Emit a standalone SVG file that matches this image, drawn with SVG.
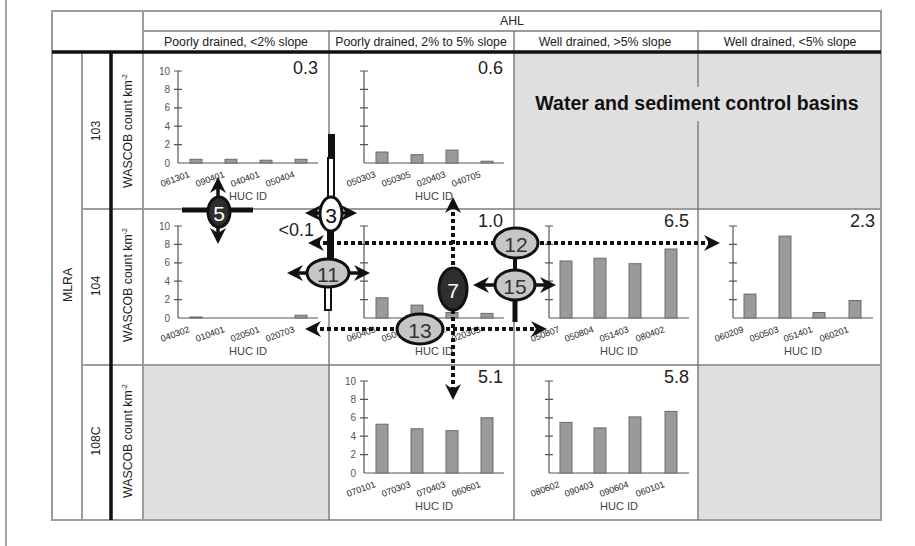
<svg xmlns="http://www.w3.org/2000/svg" width="915" height="546" viewBox="0 0 915 546">
<style>
text{font-family:"Liberation Sans",Arial,sans-serif}
.ln{stroke:#9c9c9c;stroke-width:2;fill:none}
.cl{stroke:#6e6e6e;stroke-width:1.3;fill:none}
.bk{stroke:#111;stroke-width:3.5;fill:none}
.hd{font-size:12.3px;fill:#222;text-anchor:middle}
.vl{font-size:18px;fill:#222;text-anchor:end}
.tk{font-size:10px;fill:#555;text-anchor:end}
.xl{font-size:9px;fill:#222}
.hu{font-size:11px;fill:#444;text-anchor:middle}
.bar{fill:#9a9a9a;stroke:#6a6a6a;stroke-width:1}
.ya{stroke:#555;stroke-width:1.2;fill:none}
.xa{stroke:#aaa;stroke-width:2.2}
.dt{stroke:#111;stroke-width:4;stroke-dasharray:4 3;fill:none}
.sh{stroke:#111;stroke-width:3.5;fill:none}
.el{stroke:#111;stroke-width:3}
.gy{fill:#c6c6c6}
.dk{fill:#2e2e2e}
.wh{fill:#fff}
.nm{font-size:21px;text-anchor:middle;dominant-baseline:central;fill:#333}
.gf{fill:#dfdfdf}
</style>
<defs>
<marker id="ah" viewBox="0 0 16 16" refX="8" refY="8" markerWidth="16" markerHeight="16" markerUnits="userSpaceOnUse" orient="auto-start-reverse"><path d="M0,0 L16,8 L0,16 L5,8 Z" fill="#111"/></marker>
<g id="ax">
<line class="xa" x1="0" y1="0" x2="140" y2="0"/>
<line class="ya" x1="0" y1="-92" x2="0" y2="0"/>
<path class="ya" d="M-4,-92H4M-4,-73.6H4M-4,-55.2H4M-4,-36.8H4M-4,-18.4H4"/>
</g>
<g id="tl">
<text class="tk" x="-8" y="3.5">0</text>
<text class="tk" x="-8" y="-14.9">2</text>
<text class="tk" x="-8" y="-33.3">4</text>
<text class="tk" x="-8" y="-51.7">6</text>
<text class="tk" x="-8" y="-70.1">8</text>
<text class="tk" x="-8" y="-88.5">10</text>
</g>
</defs>
<rect width="915" height="546" fill="#fff"/>
<line x1="6" y1="0" x2="6" y2="546" stroke="#666" stroke-width="1.2"/>

<g id="table">
<rect class="gf" x="514" y="52" width="367" height="157"/>
<rect class="gf" x="143" y="365" width="186" height="155"/>
<rect class="gf" x="698" y="365" width="183" height="155"/>
<path class="ln" d="M52,11H881V520H52ZM143,31H881M143,11V520M82,52V520M82,209H881M82,365H881"/>
<path class="cl" d="M329,31V520M514,31V520M698,31V87M698,121V520"/>
<path class="bk" d="M52,52H881M111,52V520"/>
<text class="hd" x="512" y="25" font-size="11.5">AHL</text>
<text class="hd" x="236" y="46">Poorly drained, &lt;2% slope</text>
<text class="hd" x="421" y="46">Poorly drained, 2% to 5% slope</text>
<text class="hd" x="605" y="46">Well drained, &gt;5% slope</text>
<text class="hd" x="790" y="46">Well drained, &lt;5% slope</text>
<text class="hd" transform="translate(72,285) rotate(-90)">MLRA</text>
<text class="hd" transform="translate(100,131) rotate(-90)">103</text>
<text class="hd" transform="translate(100,286) rotate(-90)">104</text>
<text class="hd" transform="translate(100,441) rotate(-90)">108C</text>
<text class="hd" transform="translate(132,131) rotate(-90)">WASCOB count km<tspan font-size="7" dy="-5">-2</tspan></text>
<text class="hd" transform="translate(132,285) rotate(-90)">WASCOB count km<tspan font-size="7" dy="-5">-2</tspan></text>
<text class="hd" transform="translate(132,441) rotate(-90)">WASCOB count km<tspan font-size="7" dy="-5">-2</tspan></text>
<text x="697" y="110" font-size="19.5" font-weight="bold" fill="#111" text-anchor="middle">Water and sediment control basins</text>
</g>

<g id="chart-103-1" transform="translate(178,163)">
<use href="#ax"/><use href="#tl"/>
<rect class="bar" x="12" y="-3.7" width="12" height="3.7"/>
<rect class="bar" x="47" y="-3.7" width="12" height="3.7"/>
<rect class="bar" x="82" y="-2.8" width="12" height="2.8"/>
<rect class="bar" x="117" y="-3.7" width="12" height="3.7"/>
<text class="xl" transform="translate(-16,24) rotate(-20)">061301</text>
<text class="xl" transform="translate(19,24) rotate(-20)">090401</text>
<text class="xl" transform="translate(54,24) rotate(-20)">040401</text>
<text class="xl" transform="translate(89,24) rotate(-20)">050404</text>
<text class="hu" x="70" y="37">HUC ID</text>
<text class="vl" x="140" y="-89">0.3</text>
</g>

<g id="chart-103-2" transform="translate(364,163)">
<use href="#ax"/>
<rect class="bar" x="12" y="-11" width="12" height="11"/>
<rect class="bar" x="47" y="-8.3" width="12" height="8.3"/>
<rect class="bar" x="82" y="-12.9" width="12" height="12.9"/>
<rect class="bar" x="117" y="-1.8" width="12" height="1.8"/>
<text class="xl" transform="translate(-16,24) rotate(-20)">050303</text>
<text class="xl" transform="translate(19,24) rotate(-20)">050305</text>
<text class="xl" transform="translate(54,24) rotate(-20)">020403</text>
<text class="xl" transform="translate(89,24) rotate(-20)">040705</text>
<text class="hu" x="70" y="37">HUC ID</text>
<text class="vl" x="139" y="-89">0.6</text>
</g>

<g id="chart-104-1" transform="translate(178,318)">
<use href="#ax"/><use href="#tl"/>
<rect class="bar" x="12" y="-1" width="12" height="1"/>
<rect class="bar" x="117" y="-2.8" width="12" height="2.8"/>
<text class="xl" transform="translate(-16,24) rotate(-20)">040302</text>
<text class="xl" transform="translate(19,24) rotate(-20)">010401</text>
<text class="xl" transform="translate(54,24) rotate(-20)">020501</text>
<text class="xl" transform="translate(89,24) rotate(-20)">020703</text>
<text class="hu" x="70" y="37">HUC ID</text>
<text class="vl" x="136" y="-82">&lt;0.1</text>
</g>

<g id="chart-104-2" transform="translate(364,318)">
<use href="#ax"/>
<rect class="bar" x="12" y="-20.2" width="12" height="20.2"/>
<rect class="bar" x="47" y="-12.9" width="12" height="12.9"/>
<rect class="bar" x="82" y="-5.5" width="12" height="5.5"/>
<rect class="bar" x="117" y="-4.6" width="12" height="4.6"/>
<text class="xl" transform="translate(-16,24) rotate(-20)">060403</text>
<text class="xl" transform="translate(19,24) rotate(-20)">050402</text>
<text class="xl" transform="translate(54,24) rotate(-20)">020402</text>
<text class="xl" transform="translate(89,24) rotate(-20)">020303</text>
<text class="hu" x="70" y="37">HUC ID</text>
<text class="vl" x="139" y="-91">1.0</text>
</g>

<g id="chart-104-3" transform="translate(549,318)">
<use href="#ax"/>
<rect class="bar" x="11" y="-57" width="12" height="57"/>
<rect class="bar" x="45" y="-59.8" width="12" height="59.8"/>
<rect class="bar" x="80" y="-54.3" width="12" height="54.3"/>
<rect class="bar" x="116" y="-69" width="12" height="69"/>
<text class="xl" transform="translate(-17,24) rotate(-20)">050807</text>
<text class="xl" transform="translate(17,24) rotate(-20)">050804</text>
<text class="xl" transform="translate(52,24) rotate(-20)">051403</text>
<text class="xl" transform="translate(88,24) rotate(-20)">080402</text>
<text class="hu" x="70" y="37">HUC ID</text>
<text class="vl" x="140" y="-91">6.5</text>
</g>

<g id="chart-104-4" transform="translate(733,318)">
<use href="#ax"/>
<rect class="bar" x="11" y="-23.9" width="12" height="23.9"/>
<rect class="bar" x="46" y="-81.9" width="12" height="81.9"/>
<rect class="bar" x="80" y="-5.5" width="12" height="5.5"/>
<rect class="bar" x="116" y="-17.5" width="12" height="17.5"/>
<text class="xl" transform="translate(-17,24) rotate(-20)">060209</text>
<text class="xl" transform="translate(18,24) rotate(-20)">050503</text>
<text class="xl" transform="translate(52,24) rotate(-20)">051401</text>
<text class="xl" transform="translate(88,24) rotate(-20)">060201</text>
<text class="hu" x="70" y="37">HUC ID</text>
<text class="vl" x="142" y="-91">2.3</text>
</g>

<g id="chart-108C-2" transform="translate(364,473)">
<use href="#ax"/><use href="#tl"/>
<rect class="bar" x="12" y="-48.8" width="12" height="48.8"/>
<rect class="bar" x="47" y="-44.2" width="12" height="44.2"/>
<rect class="bar" x="82" y="-42.3" width="12" height="42.3"/>
<rect class="bar" x="117" y="-55.2" width="12" height="55.2"/>
<text class="xl" transform="translate(-16,24) rotate(-20)">070101</text>
<text class="xl" transform="translate(19,24) rotate(-20)">070303</text>
<text class="xl" transform="translate(54,24) rotate(-20)">070403</text>
<text class="xl" transform="translate(89,24) rotate(-20)">060601</text>
<text class="hu" x="70" y="37">HUC ID</text>
<text class="vl" x="139" y="-90">5.1</text>
</g>

<g id="chart-108C-3" transform="translate(549,473)">
<use href="#ax"/>
<rect class="bar" x="11" y="-50.6" width="12" height="50.6"/>
<rect class="bar" x="45" y="-45.1" width="12" height="45.1"/>
<rect class="bar" x="80" y="-56.1" width="12" height="56.1"/>
<rect class="bar" x="116" y="-61.6" width="12" height="61.6"/>
<text class="xl" transform="translate(-17,24) rotate(-20)">080602</text>
<text class="xl" transform="translate(17,24) rotate(-20)">090403</text>
<text class="xl" transform="translate(52,24) rotate(-20)">090604</text>
<text class="xl" transform="translate(88,24) rotate(-20)">060101</text>
<text class="hu" x="70" y="37">HUC ID</text>
<text class="vl" x="140" y="-90">5.8</text>
</g>

<g id="connectors">
<line class="dt" x1="316" y1="243" x2="712" y2="243" marker-start="url(#ah)" marker-end="url(#ah)"/>
<line class="dt" x1="313" y1="329" x2="539" y2="329" marker-start="url(#ah)" marker-end="url(#ah)"/>
<line class="dt" x1="453" y1="205" x2="453" y2="392" marker-start="url(#ah)" marker-end="url(#ah)"/>
<rect x="328" y="134" width="7" height="26" fill="#111"/>
<rect x="328" y="158" width="6" height="40" fill="#fff" stroke="#111" stroke-width="2"/>
<rect x="327" y="229" width="7" height="32" fill="#111"/>
<rect x="325" y="286" width="6" height="24" fill="#fff" stroke="#111" stroke-width="2"/>
<line x1="515" y1="256" x2="515" y2="272" stroke="#111" stroke-width="4"/>
<line x1="515" y1="298" x2="515" y2="322" stroke="#111" stroke-width="5"/>
<line x1="182" y1="210" x2="253" y2="210" stroke="#111" stroke-width="5"/>
<line class="sh" x1="218" y1="197" x2="218" y2="185" marker-end="url(#ah)"/>
<line class="sh" x1="218" y1="226" x2="218" y2="236" marker-end="url(#ah)"/>
<line class="sh" x1="321" y1="213" x2="313" y2="213" marker-end="url(#ah)"/>
<line class="sh" x1="341" y1="213" x2="349" y2="213" marker-end="url(#ah)"/>
<line class="sh" x1="309" y1="273" x2="295" y2="273" marker-end="url(#ah)"/>
<line class="sh" x1="348" y1="273" x2="362" y2="273" marker-end="url(#ah)"/>
<line class="sh" x1="496" y1="285" x2="481" y2="285" marker-end="url(#ah)"/>
<line class="sh" x1="534" y1="285" x2="548" y2="285" marker-end="url(#ah)"/>
</g>

<g id="node-5"><ellipse class="el dk" cx="219" cy="212" rx="11" ry="15"/><text class="nm" x="219" y="213" style="fill:#fff">5</text></g>
<g id="node-3"><ellipse class="el wh" cx="331" cy="214" rx="11" ry="17"/><text class="nm" x="331" y="215" style="fill:#111">3</text></g>
<g id="node-11"><ellipse class="el gy" cx="328" cy="273" rx="21" ry="14"/><text class="nm" x="328" y="274">11</text></g>
<g id="node-7"><ellipse class="el dk" cx="453" cy="289" rx="14" ry="21"/><text class="nm" x="453" y="290" style="fill:#fff">7</text></g>
<g id="node-13"><ellipse class="el gy" cx="420" cy="329" rx="23" ry="15"/><text class="nm" x="420" y="330">13</text></g>
<g id="node-12"><ellipse class="el gy" cx="516" cy="243" rx="22" ry="15"/><text class="nm" x="516" y="244">12</text></g>
<g id="node-15"><ellipse class="el gy" cx="515" cy="285" rx="20" ry="15"/><text class="nm" x="515" y="286">15</text></g>
</svg>
